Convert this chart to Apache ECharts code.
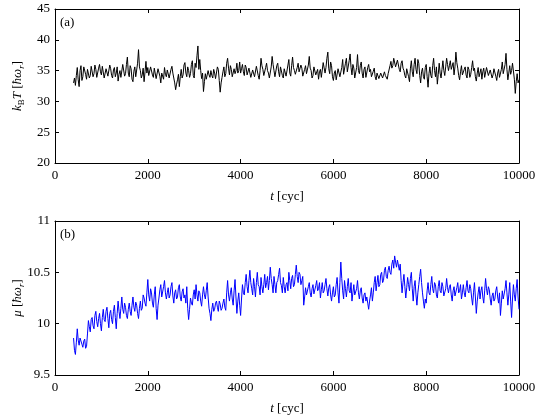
<!DOCTYPE html>
<html>
<head>
<meta charset="utf-8">
<script src="https://cdn.jsdelivr.net/npm/echarts@6/dist/echarts.min.js"></script>
<style>html,body{margin:0;padding:0;background:#fff;}#c{width:540px;height:418px;}</style>
</head>
<body>
<div id="c"></div>
<script>
// time grid (cycles)
const tStart = 400, tStep = 20;
const xTicks = [0, 2000, 4000, 6000, 8000, 10000];
const kTTicks = [20, 25, 30, 35, 40, 45];
const muTicks = [9.5, 10, 10.5, 11];

// k_B T [hbar omega_r]
const kT = [
 33.0, 33.8, 32.6, 34.2, 35.5, 33.5, 32.4, 35.0, 35.8, 33.4, 34.0, 35.6, 35.9, 34.4, 33.6, 35.2, 35.4, 33.8, 34.2, 35.7,
 35.8, 34.0, 34.5, 35.9, 35.2, 33.9, 34.0, 35.4, 36.0, 34.8, 34.3, 35.7, 35.5, 33.8, 34.0, 35.3, 35.6, 34.1, 34.4, 35.9,
 35.3, 34.2, 33.8, 35.1, 35.5, 34.0, 34.6, 35.6, 33.3, 34.4, 35.0, 33.9, 34.2, 36.0, 35.8, 34.1, 34.5, 36.0, 37.2, 34.6,
 34.0, 35.8, 35.3, 33.6, 33.2, 34.9, 35.6, 34.0, 34.1, 36.2, 38.4, 35.6, 35.0, 33.8, 34.3, 35.4, 33.2, 34.8, 36.5, 34.6,
 35.5, 34.2, 34.4, 35.6, 35.8, 34.3, 33.9, 35.4, 35.2, 33.7, 34.0, 35.3, 35.0, 34.1, 33.0, 34.6, 34.8, 33.6, 35.5, 34.4,
 34.0, 35.1, 35.4, 33.8, 33.6, 35.2, 35.7, 34.6, 34.3, 33.0, 31.9, 32.8, 33.5, 34.4, 32.4, 34.0, 35.2, 33.8, 34.3, 35.9,
 36.3, 34.6, 34.0, 35.6, 35.0, 33.9, 34.5, 36.0, 36.6, 34.2, 33.8, 36.2, 35.5, 37.4, 39.0, 35.2, 36.8, 35.0, 33.7, 34.6,
 31.6, 33.2, 34.5, 33.6, 33.8, 35.0, 34.3, 33.9, 35.0, 34.2, 33.8, 35.2, 34.6, 33.7, 34.0, 35.6, 35.2, 33.4, 31.5, 33.0,
 33.9, 34.8, 35.6, 34.0, 34.5, 36.2, 37.0, 35.4, 34.3, 35.8, 35.2, 34.0, 33.8, 35.3, 34.5, 35.0, 36.2, 34.6, 35.0, 36.4,
 34.6, 35.3, 36.0, 34.8, 34.2, 35.9, 35.5, 34.3, 34.0, 35.4, 35.2, 33.9, 33.8, 35.1, 35.0, 34.0, 34.3, 35.7, 35.5, 34.2,
 33.6, 35.0, 37.0, 35.8, 35.2, 34.2, 34.0, 35.5, 36.2, 35.0, 34.6, 33.8, 33.5, 35.6, 37.3, 36.0, 35.0, 34.0, 34.2, 35.8,
 36.2, 34.8, 34.0, 35.6, 35.4, 34.2, 33.8, 35.3, 35.0, 34.1, 34.3, 35.9, 36.8, 34.6, 34.1, 35.8, 37.2, 35.5, 35.0, 34.4,
 34.3, 35.5, 36.2, 34.8, 34.5, 35.9, 35.4, 34.1, 33.9, 35.2, 35.8, 34.5, 34.3, 35.9, 37.3, 35.4, 35.0, 33.8, 34.2, 35.6,
 35.8, 34.3, 34.5, 35.2, 33.6, 34.8, 35.2, 33.9, 34.0, 36.3, 36.0, 34.6, 35.5, 37.0, 38.0, 35.3, 34.5, 36.4, 35.8, 34.0,
 33.4, 34.6, 35.0, 33.5, 33.7, 35.3, 35.6, 34.0, 34.2, 35.5, 36.8, 34.4, 34.6, 36.2, 37.0, 34.8, 35.0, 36.6, 37.7, 35.5,
 34.3, 36.0, 35.4, 33.8, 33.5, 35.5, 37.6, 35.0, 34.5, 35.8, 36.4, 34.6, 33.8, 35.2, 35.6, 33.9, 34.2, 35.5, 36.0, 34.8,
 35.2, 34.0, 33.8, 34.9, 35.4, 34.0, 33.5, 34.6, 34.3, 33.7, 33.9, 34.6, 34.5, 33.8, 34.0, 34.8, 34.2, 33.9, 33.6, 34.5,
 34.6, 35.8, 36.5, 35.4, 35.8, 37.0, 36.9, 35.6, 35.5, 36.7, 36.4, 35.2, 34.8, 36.2, 36.6, 35.4, 35.0, 34.2, 33.8, 35.3,
 35.2, 34.0, 33.2, 35.4, 36.6, 34.8, 34.0, 36.0, 37.0, 35.2, 34.5, 36.8, 36.2, 34.2, 33.0, 34.8, 35.4, 34.0, 33.6, 35.5,
 36.0, 34.0, 32.3, 34.5, 35.6, 34.2, 33.8, 35.8, 37.0, 35.0, 34.0, 35.6, 32.8, 34.4, 36.2, 34.6, 33.8, 35.2, 36.6, 35.0,
 34.2, 35.6, 37.0, 36.0, 35.0, 35.8, 36.6, 35.2, 35.5, 36.3, 34.3, 35.6, 38.0, 36.3, 35.4, 34.2, 33.5, 34.8, 35.8, 34.3,
 34.0, 35.2, 35.6, 34.3, 33.8, 35.6, 35.2, 33.9, 34.4, 35.5, 36.6, 35.0, 35.4, 34.0, 33.3, 34.6, 35.5, 34.0, 34.2, 35.3,
 33.6, 34.8, 35.4, 33.9, 34.0, 35.5, 35.2, 34.2, 33.9, 35.1, 35.0, 33.8, 34.3, 35.3, 35.5, 34.1, 33.4, 34.6, 35.2, 33.9,
 34.0, 35.2, 36.4, 34.5, 34.8, 36.0, 37.8, 35.2, 33.5, 34.6, 35.8, 34.4, 35.0, 36.2, 36.0, 33.6, 31.3, 33.2, 34.5, 33.0,
 33.5
];

// mu [hbar omega_r]
const mu = [
 9.86, 9.74, 9.70, 9.82, 9.95, 9.84, 9.79, 9.86, 9.87, 9.80, 9.77, 9.83, 9.85, 9.76, 9.78, 9.90, 10.03, 9.97, 9.92, 10.04,
 10.06, 9.98, 9.95, 10.08, 10.12, 10.02, 9.97, 10.05, 10.10, 10.00, 9.93, 10.06, 10.14, 10.04, 10.02, 10.12, 10.16, 10.05, 9.96, 10.10,
 10.13, 10.04, 10.00, 10.12, 10.18, 10.06, 9.95, 10.10, 10.22, 10.12, 10.05, 10.15, 10.26, 10.14, 10.10, 10.20, 10.16, 10.08, 10.05, 10.14,
 10.20, 10.12, 10.08, 10.18, 10.26, 10.16, 10.12, 10.21, 10.18, 10.10, 10.05, 10.15, 10.22, 10.13, 10.15, 10.28, 10.25, 10.20, 10.17, 10.30,
 10.43, 10.28, 10.22, 10.34, 10.30, 10.20, 10.16, 10.28, 10.36, 10.15, 10.04, 10.18, 10.25, 10.33, 10.38, 10.26, 10.27, 10.36, 10.42, 10.30,
 10.24, 10.30, 10.35, 10.25, 10.28, 10.36, 10.40, 10.27, 10.20, 10.30, 10.33, 10.24, 10.26, 10.35, 10.38, 10.26, 10.22, 10.31, 10.34, 10.25,
 10.28, 10.20, 10.36, 10.15, 10.04, 10.14, 10.25, 10.20, 10.18, 10.28, 10.33, 10.24, 10.38, 10.28, 10.22, 10.32, 10.30, 10.22, 10.17, 10.28,
 10.36, 10.28, 10.24, 10.32, 10.40, 10.26, 10.15, 10.10, 10.03, 10.14, 10.20, 10.12, 10.14, 10.20, 10.22, 10.16, 10.12, 10.22, 10.19, 10.13,
 10.15, 10.20, 10.24, 10.16, 10.13, 10.30, 10.42, 10.28, 10.22, 10.30, 10.35, 10.24, 10.18, 10.32, 10.43, 10.26, 10.10, 10.22, 10.30, 10.18,
 10.08, 10.24, 10.38, 10.30, 10.28, 10.40, 10.48, 10.36, 10.30, 10.42, 10.52, 10.40, 10.34, 10.28, 10.44, 10.36, 10.26, 10.40, 10.50, 10.38,
 10.36, 10.28, 10.45, 10.36, 10.30, 10.38, 10.48, 10.35, 10.40, 10.46, 10.33, 10.42, 10.55, 10.44, 10.38, 10.30, 10.46, 10.38, 10.30, 10.40,
 10.42, 10.48, 10.54, 10.40, 10.37, 10.30, 10.45, 10.36, 10.30, 10.38, 10.40, 10.32, 10.50, 10.42, 10.34, 10.44, 10.47, 10.36, 10.38, 10.48,
 10.57, 10.46, 10.40, 10.50, 10.48, 10.38, 10.42, 10.46, 10.18, 10.26, 10.35, 10.28, 10.28, 10.36, 10.40, 10.30, 10.26, 10.34, 10.38, 10.29,
 10.30, 10.37, 10.42, 10.32, 10.34, 10.40, 10.25, 10.33, 10.40, 10.30, 10.32, 10.38, 10.44, 10.34, 10.27, 10.35, 10.38, 10.28, 10.22, 10.30,
 10.36, 10.26, 10.28, 10.38, 10.45, 10.30, 10.20, 10.40, 10.60, 10.44, 10.32, 10.24, 10.42, 10.34, 10.26, 10.36, 10.44, 10.32, 10.30, 10.40,
 10.22, 10.30, 10.38, 10.28, 10.27, 10.34, 10.42, 10.30, 10.24, 10.32, 10.35, 10.25, 10.20, 10.28, 10.30, 10.22, 10.26, 10.20, 10.14, 10.22,
 10.28, 10.35, 10.22, 10.30, 10.40, 10.46, 10.32, 10.40, 10.47, 10.36, 10.38, 10.48, 10.50, 10.40, 10.42, 10.52, 10.55, 10.46, 10.44, 10.52,
 10.56, 10.50, 10.48, 10.58, 10.62, 10.54, 10.66, 10.60, 10.55, 10.62, 10.63, 10.52, 10.58, 10.42, 10.30, 10.40, 10.48, 10.36, 10.25, 10.35,
 10.45, 10.38, 10.32, 10.44, 10.50, 10.34, 10.22, 10.36, 10.42, 10.28, 10.18, 10.30, 10.38, 10.46, 10.53, 10.40, 10.30, 10.22, 10.15, 10.24,
 10.20, 10.32, 10.40, 10.30, 10.28, 10.38, 10.46, 10.34, 10.30, 10.40, 10.38, 10.28, 10.25, 10.36, 10.42, 10.32, 10.30, 10.40, 10.36, 10.27,
 10.26, 10.34, 10.44, 10.35, 10.30, 10.36, 10.38, 10.28, 10.22, 10.32, 10.36, 10.27, 10.28, 10.35, 10.40, 10.30, 10.32, 10.38, 10.24, 10.30,
 10.38, 10.30, 10.26, 10.35, 10.42, 10.32, 10.30, 10.38, 10.34, 10.25, 10.18, 10.30, 10.40, 10.26, 10.10, 10.22, 10.30, 10.36, 10.24, 10.32,
 10.36, 10.26, 10.20, 10.32, 10.44, 10.34, 10.28, 10.36, 10.33, 10.24, 10.18, 10.27, 10.30, 10.22, 10.24, 10.32, 10.36, 10.26, 10.20, 10.30,
 10.08, 10.20, 10.32, 10.24, 10.25, 10.34, 10.42, 10.30, 10.18, 10.28, 10.40, 10.22, 10.06, 10.24, 10.38, 10.28, 10.22, 10.34, 10.43, 10.26,
 10.14
];

const FONT = "'Liberation Serif', 'DejaVu Serif', serif";
const kTData = kT.map((v, i) => [tStart + i * tStep, v]);
const muData = mu.map((v, i) => [tStart + i * tStep, v]);

const rich = {
  i: { fontStyle: 'italic', fontFamily: FONT, fontSize: 13, color: '#000', lineHeight: 14 },
  n: { fontFamily: FONT, fontSize: 13, color: '#000', lineHeight: 14 },
  s: { fontFamily: FONT, fontSize: 9, color: '#000', lineHeight: 10, padding: [8, 0, 0, 0] },
  si: { fontFamily: FONT, fontSize: 9, fontStyle: 'italic', color: '#000', lineHeight: 10, padding: [8, 0, 0, 0] }
};

function xAxisCfg(gi, pos) {
  const main = pos === 'bottom';
  return {
    type: 'value', gridIndex: gi, position: pos,
    min: xTicks[0], max: xTicks[xTicks.length - 1], interval: xTicks[1] - xTicks[0],
    name: main ? '{i|t}{n| [cyc]}' : '',
    nameLocation: 'middle', nameGap: 27,
    nameTextStyle: { rich: rich },
    axisLine: { show: true, onZero: false, lineStyle: { color: '#000', width: 1 } },
    axisTick: { show: true, inside: true, length: 4, lineStyle: { color: '#000' } },
    axisLabel: { show: main, color: '#000', fontFamily: FONT, fontSize: 13, margin: 6,
                 formatter: v => String(v) },
    splitLine: { show: false }
  };
}
function yAxisCfg(gi, pos, ticks, nameStr) {
  const main = pos === 'left';
  return {
    type: 'value', gridIndex: gi, position: pos,
    min: ticks[0], max: ticks[ticks.length - 1], interval: ticks[1] - ticks[0],
    name: main ? nameStr : '',
    nameLocation: 'middle', nameGap: 30, nameRotate: 90, nameMoveOverlap: false,
    nameTextStyle: { rich: rich },
    axisLine: { show: true, onZero: false, lineStyle: { color: '#000', width: 1 } },
    axisTick: { show: true, inside: true, length: 4, lineStyle: { color: '#000' } },
    axisLabel: { show: main, color: '#000', fontFamily: FONT, fontSize: 13, margin: 5,
                 formatter: v => String(v) },
    splitLine: { show: false }
  };
}

const chart = echarts.init(document.getElementById('c'), null, { renderer: 'canvas' });
chart.setOption({
  animation: false,
  backgroundColor: '#fff',
  grid: [
    { left: 55, right: 21, top: 9, height: 154, containLabel: false, outerBoundsMode: 'none' },
    { left: 55, right: 21, top: 221, height: 154, containLabel: false, outerBoundsMode: 'none' }
  ],
  xAxis: [xAxisCfg(0, 'bottom'), xAxisCfg(0, 'top'), xAxisCfg(1, 'bottom'), xAxisCfg(1, 'top')],
  yAxis: [
    yAxisCfg(0, 'left', kTTicks, '{i|k}{s|B}{i|T}{n| [}{i|ħω}{si|r}{n|]}'),
    yAxisCfg(0, 'right', kTTicks, ''),
    yAxisCfg(1, 'left', muTicks, '{i|μ}{n| [}{i|ħω}{si|r}{n|]}'),
    yAxisCfg(1, 'right', muTicks, '')
  ],
  graphic: [
    { type: 'text', left: 60, top: 16, style: { text: '(a)', font: "13px 'Liberation Serif', serif", fill: '#000' } },
    { type: 'text', left: 60, top: 228, style: { text: '(b)', font: "13px 'Liberation Serif', serif", fill: '#000' } }
  ],
  series: [
    { type: 'line', xAxisIndex: 0, yAxisIndex: 0, data: kTData, showSymbol: false, symbol: 'none',
      sampling: null, lineStyle: { color: '#000', width: 1 }, itemStyle: { color: '#000' } },
    { type: 'line', xAxisIndex: 2, yAxisIndex: 2, data: muData, showSymbol: false, symbol: 'none',
      sampling: null, lineStyle: { color: '#0000ff', width: 1 }, itemStyle: { color: '#0000ff' } }
  ]
});
</script>
</body>
</html>
